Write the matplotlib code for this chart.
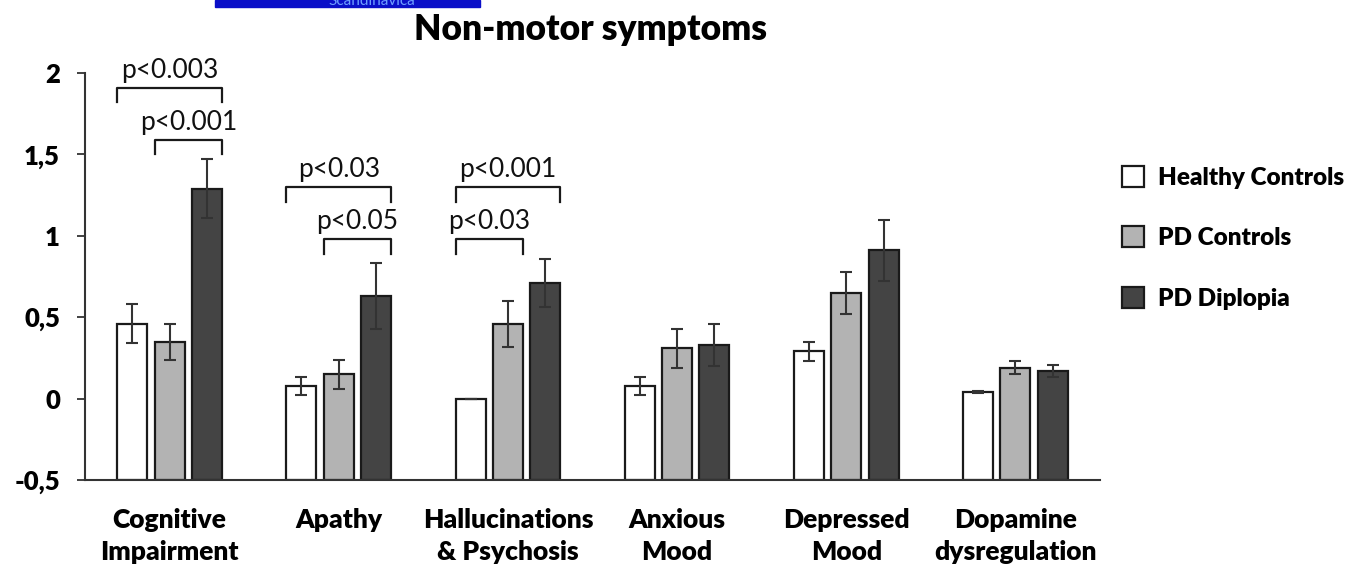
import matplotlib
matplotlib.use("Agg")
import matplotlib.pyplot as plt
import numpy as np
from matplotlib.patches import Rectangle

categories = ["Cognitive\nImpairment", "Apathy", "Hallucinations\n& Psychosis",
              "Anxious\nMood", "Depressed\nMood", "Dopamine\ndysregulation"]
series_names = ["Healthy Controls", "PD Controls", "PD Diplopia"]
healthy = [0.46, 0.08, 0.00, 0.08, 0.29, 0.04]
healthy_err = [0.12, 0.055, 0.0, 0.055, 0.06, 0.006]
pd_controls = [0.35, 0.15, 0.46, 0.31, 0.65, 0.19]
pd_controls_err = [0.11, 0.09, 0.14, 0.12, 0.13, 0.038]
pd_diplopia = [1.29, 0.63, 0.71, 0.33, 0.91, 0.17]
pd_diplopia_err = [0.18, 0.20, 0.15, 0.13, 0.19, 0.035]
yticks = [-0.5, 0, 0.5, 1, 1.5, 2]
ytick_labels = ["-0,5", "0", "0,5", "1", "1,5", "2"]
# (group, first bar, last bar, bracket top, label)
brackets = [
    (0, 0, 2, 1.91, "p<0.003"),
    (0, 1, 2, 1.59, "p<0.001"),
    (1, 0, 2, 1.30, "p<0.03"),
    (1, 1, 2, 0.98, "p<0.05"),
    (2, 0, 2, 1.30, "p<0.001"),
    (2, 0, 1, 0.98, "p<0.03"),
]

colors = ["#ffffff", "#b3b3b3", "#444444"]
FONT = "Lato"
BOLD = "heavy"
plt.rcParams["font.family"] = [FONT, "DejaVu Sans"]

fig = plt.figure(figsize=(13.49, 5.64), dpi=100)
ax = fig.add_axes([85 / 1349, 1 - 480 / 564, (1100 - 85) / 1349, (480 - 73) / 564])

base = -0.5
x = np.arange(len(categories))
step = 0.221
width = 0.177
series = [(healthy, healthy_err), (pd_controls, pd_controls_err), (pd_diplopia, pd_diplopia_err)]
handles = []
for i, (vals, errs) in enumerate(series):
    xs = x + (i - 1) * step
    vals = np.array(vals)
    b = ax.bar(xs, vals - base, bottom=base, width=width, color=colors[i],
               edgecolor="#1a1a1a", linewidth=1.6, label=series_names[i], zorder=2)
    handles.append(b)
    ax.errorbar(xs, vals, yerr=errs, fmt="none", ecolor="#333333", elinewidth=1.5,
                capsize=4.5, capthick=1.5, zorder=3)

leg_h = 0.09
for g, a, bb, top, lab in brackets:
    x0 = g + (a - 1) * step - width / 2
    x1 = g + (bb - 1) * step + width / 2
    ax.plot([x0, x0, x1, x1], [top - leg_h, top, top, top - leg_h], color="#1a1a1a",
            lw=1.6, solid_joinstyle="round", clip_on=False, zorder=4)
    ax.text((x0 + x1) / 2, top + 0.105, lab, ha="center", va="center",
            fontsize=19, color="#111111")

ax.set_xlim(-0.5, 5.5)
ax.set_ylim(-0.5, 2)
ax.set_yticks(yticks)
ax.set_yticklabels(ytick_labels, fontsize=18.5, fontweight=BOLD)
ax.set_xticks(x)
ax.set_xticklabels(categories, fontsize=19, fontweight=BOLD, linespacing=1.4)
ax.tick_params(axis="x", length=0, pad=20)
ax.tick_params(axis="y", length=6, width=1.3, color="#333333", pad=12)
for s in ["top", "right"]:
    ax.spines[s].set_visible(False)
for s in ["left", "bottom"]:
    ax.spines[s].set_linewidth(1.5)
    ax.spines[s].set_color("#333333")

ax.set_title("Non-motor symptoms", fontsize=25.5, fontweight=BOLD, pad=24,
             x=(591 - 85) / (1100 - 85))

ax.legend(handles=handles, labels=series_names, loc="upper left",
          bbox_to_anchor=(1112 / 1349, 1 - 156 / 564), bbox_transform=fig.transFigure,
          frameon=False, prop={"family": FONT, "weight": BOLD, "size": 17.5},
          handlelength=0.9, handleheight=0.95, labelspacing=1.55, handletextpad=0.6,
          borderaxespad=0)

# cropped journal banner at the top
fig.patches.append(Rectangle((215 / 1349, 1 - 7 / 564), 265 / 1349, 7 / 564,
                             transform=fig.transFigure, color="#0a0fc8", zorder=0))
fig.text(372 / 1349, 1 - 1 / 564, "Scandinavica", ha="center", va="center",
         fontsize=11, color="#6f9fff")

fig.savefig("out.png", dpi=100)
